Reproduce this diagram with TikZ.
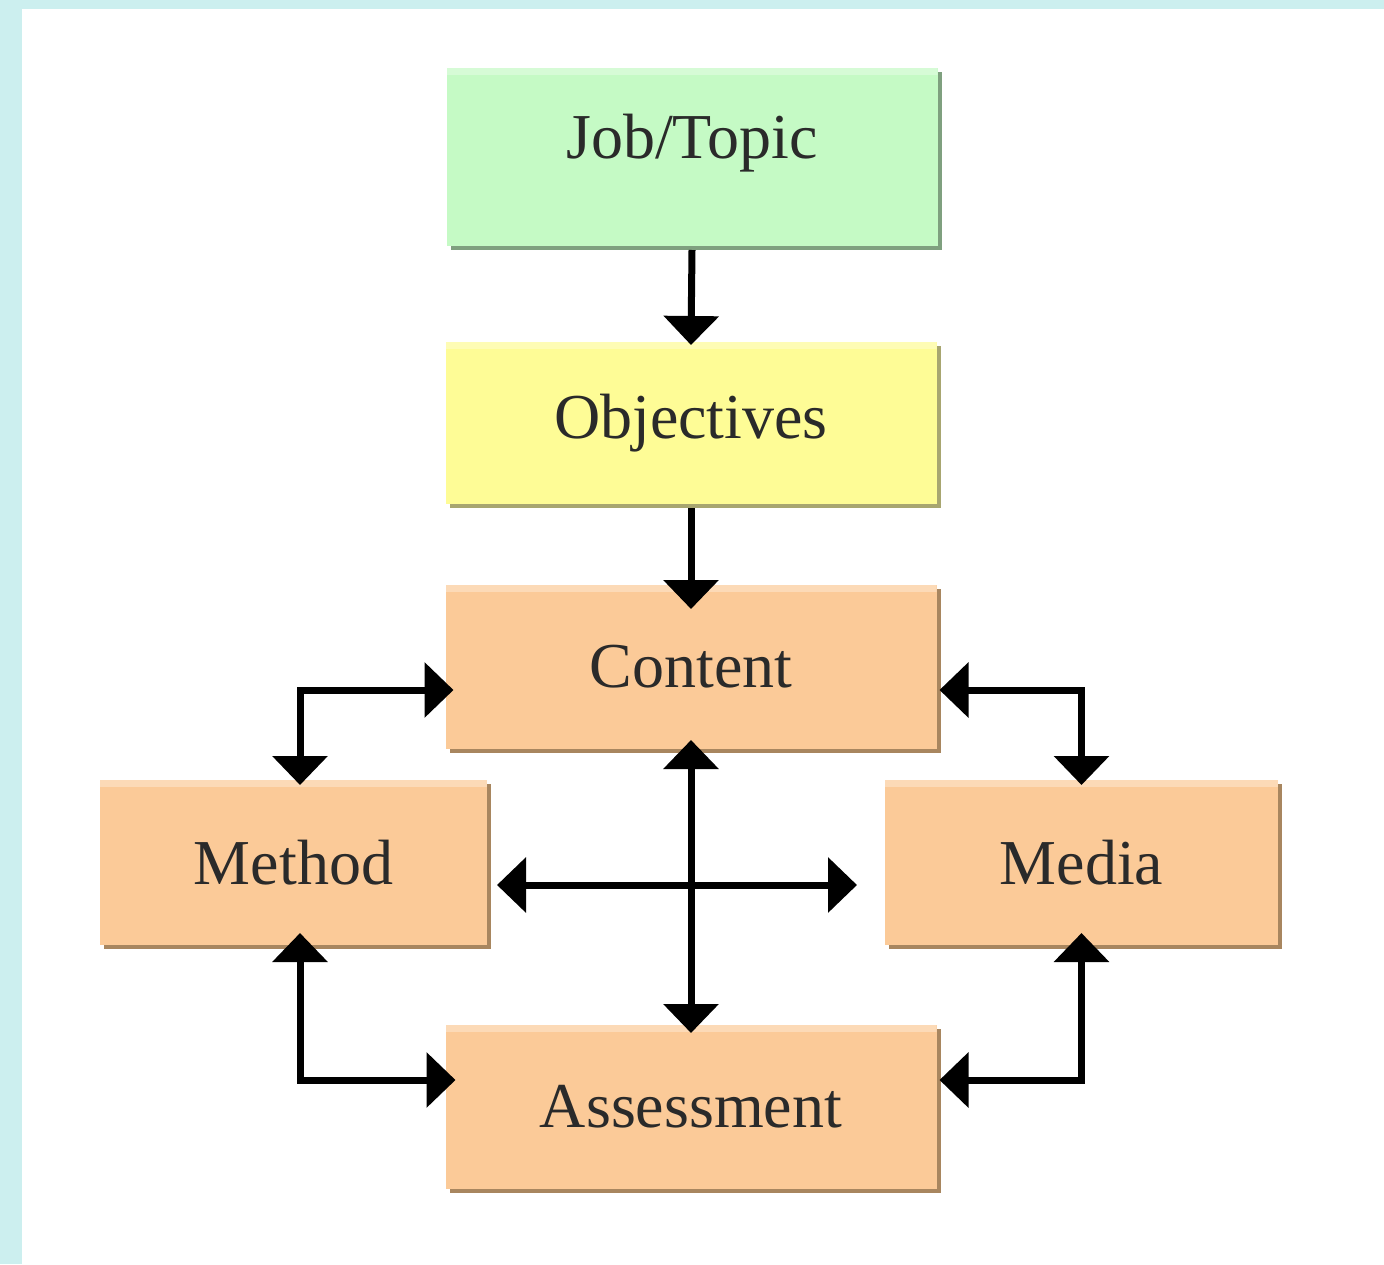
\documentclass[tikz,border=0pt]{standalone}
\usepackage{fontspec}
\setmainfont{Liberation Serif}
\usetikzlibrary{arrows.meta,shadows}
\definecolor{bgcyan}{HTML}{CCEFEF}
\definecolor{jobfill}{HTML}{C5FAC5}
\definecolor{jobshadow}{HTML}{7FA07F}
\definecolor{objfill}{HTML}{FEFC96}
\definecolor{objshadow}{HTML}{A8A670}
\definecolor{orfill}{HTML}{FBCA98}
\definecolor{orshadow}{HTML}{A8865F}
\definecolor{txt}{HTML}{2A2A2A}
\tikzset{
  box/.style={rectangle, inner sep=0pt, outer sep=0pt, text=txt,
    font=\fontsize{64}{70}\selectfont,
    path picture={\fill[white,opacity=0.3] (path picture bounding box.north west) rectangle ([yshift=-7pt]path picture bounding box.north east);}},
  shad/.style={drop shadow={shadow xshift=4pt,shadow yshift=-4pt,fill=#1,opacity=1}},
  conn/.style={line width=7pt, black, -{Triangle[length=29pt,width=54pt]}},
  dbl/.style={line width=7pt, black, {Triangle[length=29pt,width=54pt]}-{Triangle[length=29pt,width=54pt]}},
}
\begin{document}
\begin{tikzpicture}[x=1pt,y=-1pt]
\useasboundingbox (0,0) rectangle (1384,1264);
\fill[bgcyan] (0,0) rectangle (1384,1264);
\fill[white] (22,9) rectangle (1384,1264);

\node[box, shad=jobshadow, fill=jobfill, minimum width=491pt, minimum height=178pt] (job) at (692,157) {};
\node[text=txt, font=\fontsize{64}{70}\selectfont, inner sep=0pt] (joblbl) at ([yshift=14pt]job.center) {Job/Topic};
\node[box, shad=objshadow, fill=objfill, minimum width=491pt, minimum height=162pt] (obj) at (691,423) {Objectives};
\node[box, shad=orshadow, fill=orfill, minimum width=491pt, minimum height=164pt] (content) at (691,667) {Content};
\node[box, shad=orshadow, fill=orfill, minimum width=387pt, minimum height=165pt] (method) at (293.5,862.5) {Method};
\node[box, shad=orshadow, fill=orfill, minimum width=393pt, minimum height=165pt] (media) at (1081.5,862.5) {Media};
\node[box, shad=orshadow, fill=orfill, minimum width=491pt, minimum height=164pt] (assess) at (691,1107) {Assessment};

\draw[conn, shorten >=-3pt] ([yshift=-4pt]job.south) -- (obj.north);
\draw[conn, shorten >=-24pt] ([yshift=-4pt]obj.south) -- (content.north);
\draw[dbl, shorten <=-8pt, shorten >=-5pt] ([yshift=-23pt]content.west) -| ([xshift=6.5pt]method.north);
\draw[dbl, shorten >=-5pt] ([xshift=3pt,yshift=-23pt]content.east) -| (media.north);
\draw[dbl, shorten >=-8pt] ([yshift=9pt]content.south) -- (assess.north);
\draw[dbl] ([xshift=10pt,yshift=-22.5pt]method.east) -- ([xshift=-28pt,yshift=-22.5pt]media.west);
\draw[dbl, shorten >=-10pt] ([xshift=6.5pt,yshift=12pt]method.south) |- ([yshift=27pt]assess.west);
\draw[dbl] ([yshift=12pt]media.south) |- ([xshift=3pt,yshift=27pt]assess.east);
\end{tikzpicture}
\end{document}
